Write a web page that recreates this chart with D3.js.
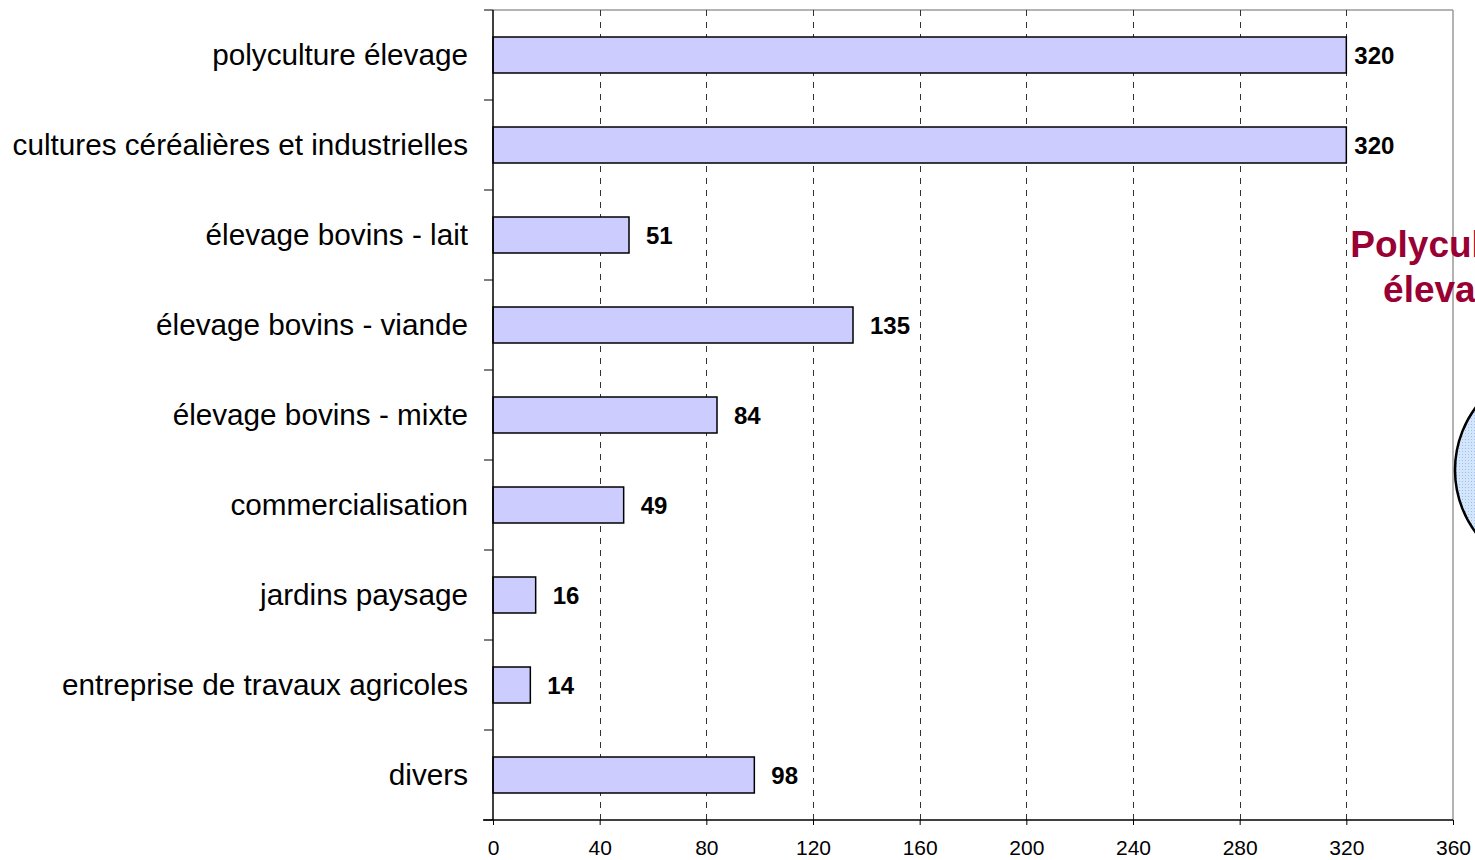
<!DOCTYPE html>
<html>
<head>
<meta charset="utf-8">
<script src="https://cdn.jsdelivr.net/npm/d3@7/dist/d3.min.js"></script>
<style>
html,body{margin:0;padding:0;background:#fff;}
svg{display:block;font-family:Arial,"Liberation Sans",sans-serif;}
</style>
</head>
<body>
<svg id="chart" width="1475" height="860"></svg>
<script>
const categories = [
  "polyculture élevage",
  "cultures céréalières et industrielles",
  "élevage bovins - lait",
  "élevage bovins - viande",
  "élevage bovins - mixte",
  "commercialisation",
  "jardins paysage",
  "entreprise de travaux agricoles",
  "divers"
];
const values = [320, 320, 51, 135, 84, 49, 16, 14, 98];
const xTicks = [0, 40, 80, 120, 160, 200, 240, 280, 320, 360];
const sideTitle = ["Polyculture", "élevage"];

const svg = d3.select("#chart");
const L = 493, R = 1453, T = 10, B = 820;

const x = d3.scaleLinear().domain([0, 360]).range([L, R]);
const y = d3.scaleBand().domain(categories).range([T, B]).paddingInner(0.6).paddingOuter(0.3);

// pattern for circle
const defs = svg.append("defs");
const pat = defs.append("pattern").attr("id","dots").attr("width",3).attr("height",3).attr("patternUnits","userSpaceOnUse");
pat.append("rect").attr("width",3).attr("height",3).attr("fill","#d4e6fb");
pat.append("rect").attr("x",1).attr("y",1).attr("width",1).attr("height",1).attr("fill","#9fc0ea");

// plot border (gray top & right)
svg.append("line").attr("x1",L).attr("x2",R).attr("y1",T).attr("y2",T).attr("stroke","#9a9a9a").attr("stroke-width",1.5);
svg.append("line").attr("x1",R).attr("x2",R).attr("y1",T).attr("y2",B).attr("stroke","#9a9a9a").attr("stroke-width",1.5);

// gridlines
svg.append("g").selectAll("line").data(xTicks.filter(d => d > 0 && d < 360)).join("line")
  .attr("x1", d => Math.round(x(d)) + 0.5).attr("x2", d => Math.round(x(d)) + 0.5)
  .attr("y1", T).attr("y2", B)
  .attr("stroke", "#333").attr("stroke-width", 1).attr("stroke-dasharray", "6,6");

// bars
svg.append("g").selectAll("rect").data(values).join("rect")
  .attr("x", x(0))
  .attr("y", (d,i) => y(categories[i]))
  .attr("width", d => x(d) - x(0))
  .attr("height", y.bandwidth())
  .attr("fill", "#ccccff").attr("stroke", "#000").attr("stroke-width", 1.5);

// value labels
svg.append("g").selectAll("text").data(values).join("text")
  .attr("x", d => x(d) + (d >= 300 ? 8 : 17))
  .attr("y", (d,i) => y(categories[i]) + y.bandwidth()/2)
  .attr("dy", "0.38em")
  .attr("font-size", 24).attr("font-weight", "bold").attr("fill", "#000")
  .text(d => d);

// left axis
const step = y.step();
const boundaries = categories.map(c => y(c) - step*y.paddingInner()/2).concat([B]);
svg.append("line").attr("x1",L).attr("x2",L).attr("y1",T).attr("y2",B).attr("stroke","#000").attr("stroke-width",1.5);
svg.append("g").selectAll("line").data(boundaries).join("line")
  .attr("x1", L-9).attr("x2", L).attr("y1", d => d).attr("y2", d => d)
  .attr("stroke","#000").attr("stroke-width",1);
svg.append("g").selectAll("text").data(categories).join("text")
  .attr("x", 468).attr("y", d => y(d) + y.bandwidth()/2)
  .attr("dy", "0.33em").attr("text-anchor","end")
  .attr("font-size", 29.7).attr("fill","#000")
  .text(d => d);

// bottom axis
const xAxis = d3.axisBottom(x).tickValues(xTicks).tickSize(5).tickPadding(15).tickSizeOuter(0);
const gx = svg.append("g").attr("transform", `translate(0,${B})`).call(xAxis);
gx.select(".domain").attr("stroke","#000").attr("stroke-width",1.5).attr("d", `M${L-10},0H${R}`);
gx.selectAll(".tick line").attr("stroke","#000");
gx.selectAll(".tick text").attr("font-size", 21).attr("font-family","Arial,'Liberation Sans',sans-serif").attr("fill","#000");

// side annotation: circle and title
svg.append("circle").attr("cx", 1560).attr("cy", 470).attr("r", 105)
  .attr("fill", "url(#dots)").attr("stroke", "#000").attr("stroke-width", 2.5);
svg.append("g").selectAll("text").data(sideTitle).join("text")
  .attr("x", 1451).attr("y", (d,i) => 257 + i*45)
  .attr("text-anchor","middle").attr("font-size", 37).attr("font-weight","bold").attr("fill","#990033")
  .text(d => d);
</script>
</body>
</html>
